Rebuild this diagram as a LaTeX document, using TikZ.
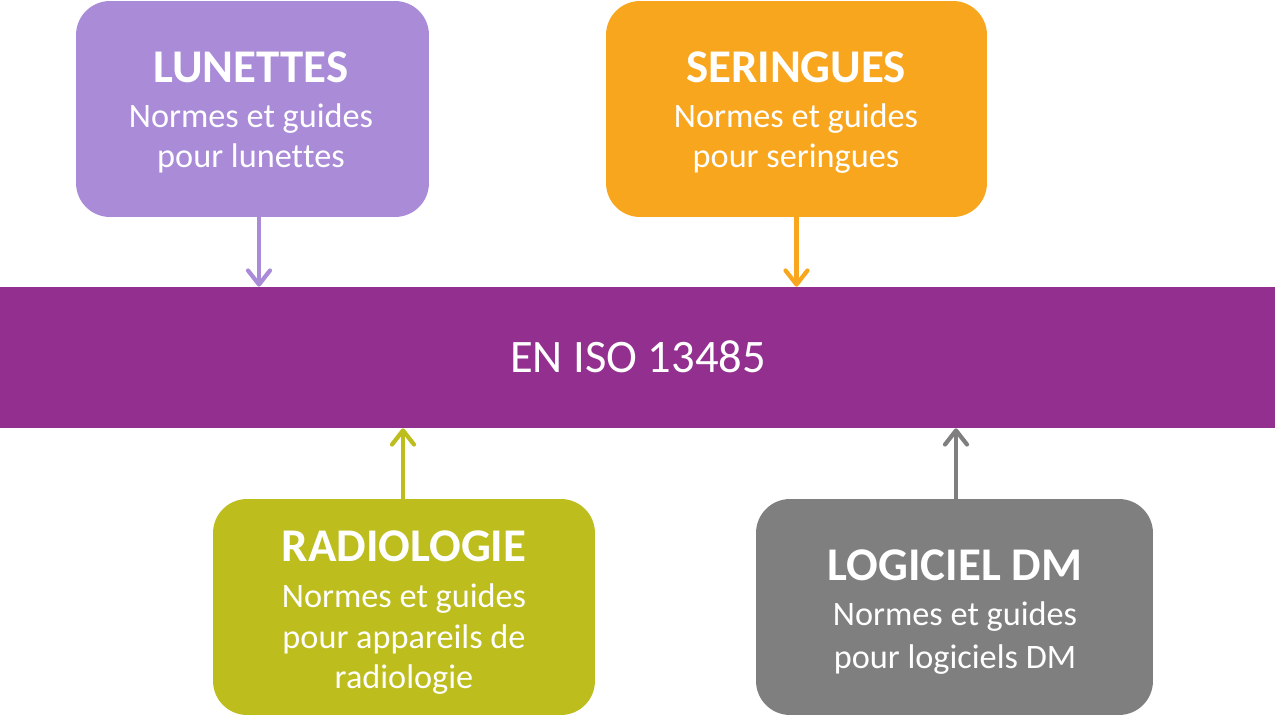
\documentclass[tikz,border=0pt]{standalone}
\usepackage{fontspec}
\setmainfont[Ligatures=NoCommon,Contextuals=NoAlternate]{Carlito}
\usetikzlibrary{arrows.meta}
\definecolor{lavc}{HTML}{A98BD8}
\definecolor{orgc}{HTML}{F9A61F}
\definecolor{purc}{HTML}{922F8F}
\definecolor{olvc}{HTML}{BDBD1D}
\definecolor{gryc}{HTML}{7F7F7F}
\tikzset{
  card/.style={rounded corners=0.68cm, inner sep=0pt, minimum height=4.32cm, draw=none},
  ttl/.style={anchor=base, text=white, inner sep=0pt, font=\fontsize{26.7}{32}\selectfont\bfseries},
  sub/.style={anchor=base, text=white, inner sep=0pt, font=\fontsize{19.5}{23}\selectfont},
  arr/.style={line width=2.4pt, line cap=round, -{Straight Barb[length=8pt,width=12.5pt,round]}},
}
\begin{document}
\begin{tikzpicture}[x=0.02cm,y=-0.02cm]
\useasboundingbox (0,0) rectangle (1275,716);
% boxes
\node[card, fill=lavc, minimum width=7.06cm] (lun) at (252.5,109) {};
\node[card, fill=orgc, minimum width=7.62cm] (ser) at (796.5,109) {};
\node[fill=purc, inner sep=0pt, minimum width=25.5cm, minimum height=2.82cm] (iso) at (637.5,357.5) {};
\node[card, fill=olvc, minimum width=7.64cm] (rad) at (404,607) {};
\node[card, fill=gryc, minimum width=7.94cm] (log) at (954.5,607) {};
% texts
\node[ttl] (lunT) at (251,83) {LUNETTES};
\node[sub] (lunA) at (251,128) {Normes et guides};
\node[sub] (lunB) at (251,168) {pour lunet\kern0pt tes};
\node[ttl] (serT) at (796,83) {SERINGUES};
\node[sub] (serA) at (796,128) {Normes et guides};
\node[sub] (serB) at (796,168) {pour seringues};
\node[anchor=base, text=white, inner sep=0pt, font=\fontsize{26.5}{32}\selectfont] (isoT) at (638,373) {EN ISO 13485};
\node[ttl] (radT) at (404,561) {RADIOLOGIE};
\node[sub] (radA) at (404,607) {Normes et guides};
\node[sub] (radB) at (404,648) {pour appareils de};
\node[sub] (radC) at (404,688) {radiologie};
\node[ttl] (logT) at (955,580) {LOGICIEL DM};
\node[sub] (logA) at (955,625) {Normes et guides};
\node[sub] (logB) at (955,668) {pour logiciels DM};
% connectors
\draw[arr, draw=lavc] ([xshift=0.13cm]lun.south) -- ([xshift=0.13cm]lun.south |- iso.north);
\draw[arr, draw=orgc] (ser.south) -- (ser.south |- iso.north);
\draw[arr, draw=olvc] ([xshift=-0.02cm]rad.north) -- ([xshift=-0.02cm]rad.north |- iso.south);
\draw[arr, draw=gryc] ([xshift=0.03cm]log.north) -- ([xshift=0.03cm]log.north |- iso.south);
\end{tikzpicture}
\end{document}
